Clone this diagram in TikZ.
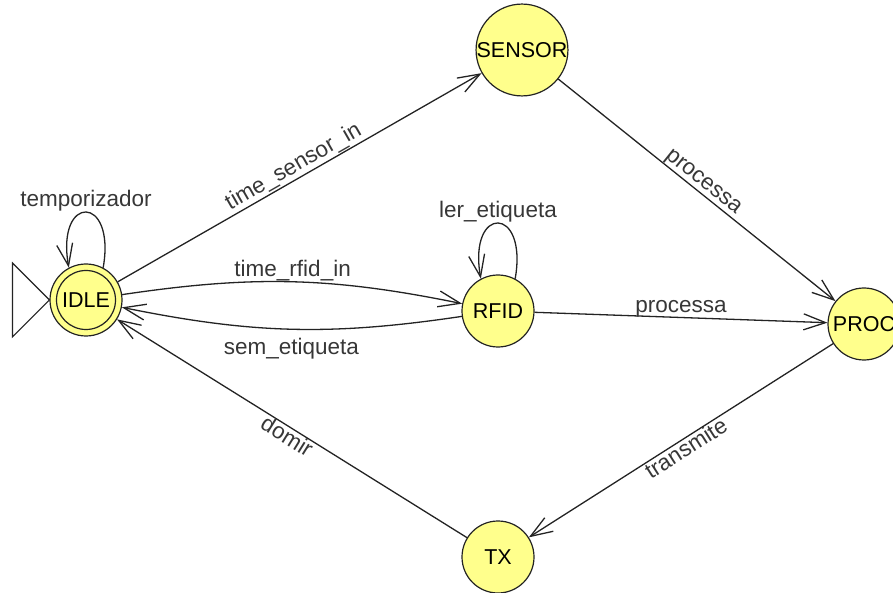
\documentclass[tikz,border=0pt]{standalone}
\usepackage{fontspec}
\setmainfont{Liberation Sans}
\usetikzlibrary{arrows.meta}
\definecolor{statefill}{RGB}{255,255,140}
\definecolor{inkline}{RGB}{35,35,35}
\definecolor{labelink}{RGB}{55,55,55}
\begin{document}
\begin{tikzpicture}[x=1pt,y=1pt,
  state/.style={circle, draw=inkline, line width=1.2pt, fill=statefill,
    minimum size=72pt, inner sep=0pt, font=\fontsize{21.5}{25}\selectfont},
  accepting/.style={path picture={\draw[inkline, line width=1.2pt]
    (path picture bounding box.center) circle (29.5pt);}},
  edge/.style={draw=inkline, line width=1.3pt,
    -{Straight Barb[length=22pt,width=16pt]}},
  lbl/.style={font=\fontsize{22.5}{26}\selectfont, text=labelink, inner sep=0pt},
]
\clip (0,0) rectangle (893,592);

% states
\node[state, accepting] (idle) at (86,292) {IDLE};
\node[state] (sensor) at (522,542) {SENSOR};
\node[state] (rfid) at (498,281) {RFID};
\node[state] (proc) at (864,268) {PROC};
\node[state] (tx) at (498,35) {TX};

% initial-state marker
\draw[inkline, line width=1.2pt, fill=white]
  (idle.west) -- ++(-37,37) -- ++(0,-74) -- cycle;

% self loops
\draw[edge] (idle.62) .. controls +(80:75) and +(100:75) .. (idle.118)
  node[lbl, pos=0.5, above] {temporizador};
\draw[edge] (rfid.62) .. controls +(80:75) and +(100:75) .. (rfid.118)
  node[lbl, pos=0.5, above] {ler\_etiqueta};

% transitions
\draw[edge] (idle) -- node[lbl, sloped, above=1pt] {time\_sensor\_in} (sensor);
\draw[edge] (sensor) -- node[lbl, sloped, above] {processa} (proc);
\draw[edge] (idle) to[bend left=10] node[lbl, above] {time\_rfid\_in} (rfid);
\draw[edge] (rfid) to[bend left=10] node[lbl, below=8pt] {sem\_etiqueta} (idle);
\draw[edge] (rfid) -- node[lbl, above] {processa} (proc);
\draw[edge] (proc) -- node[lbl, sloped, below] {transmite} (tx);
\draw[edge] (tx) -- node[lbl, sloped, below] {domir} (idle);
\end{tikzpicture}
\end{document}
